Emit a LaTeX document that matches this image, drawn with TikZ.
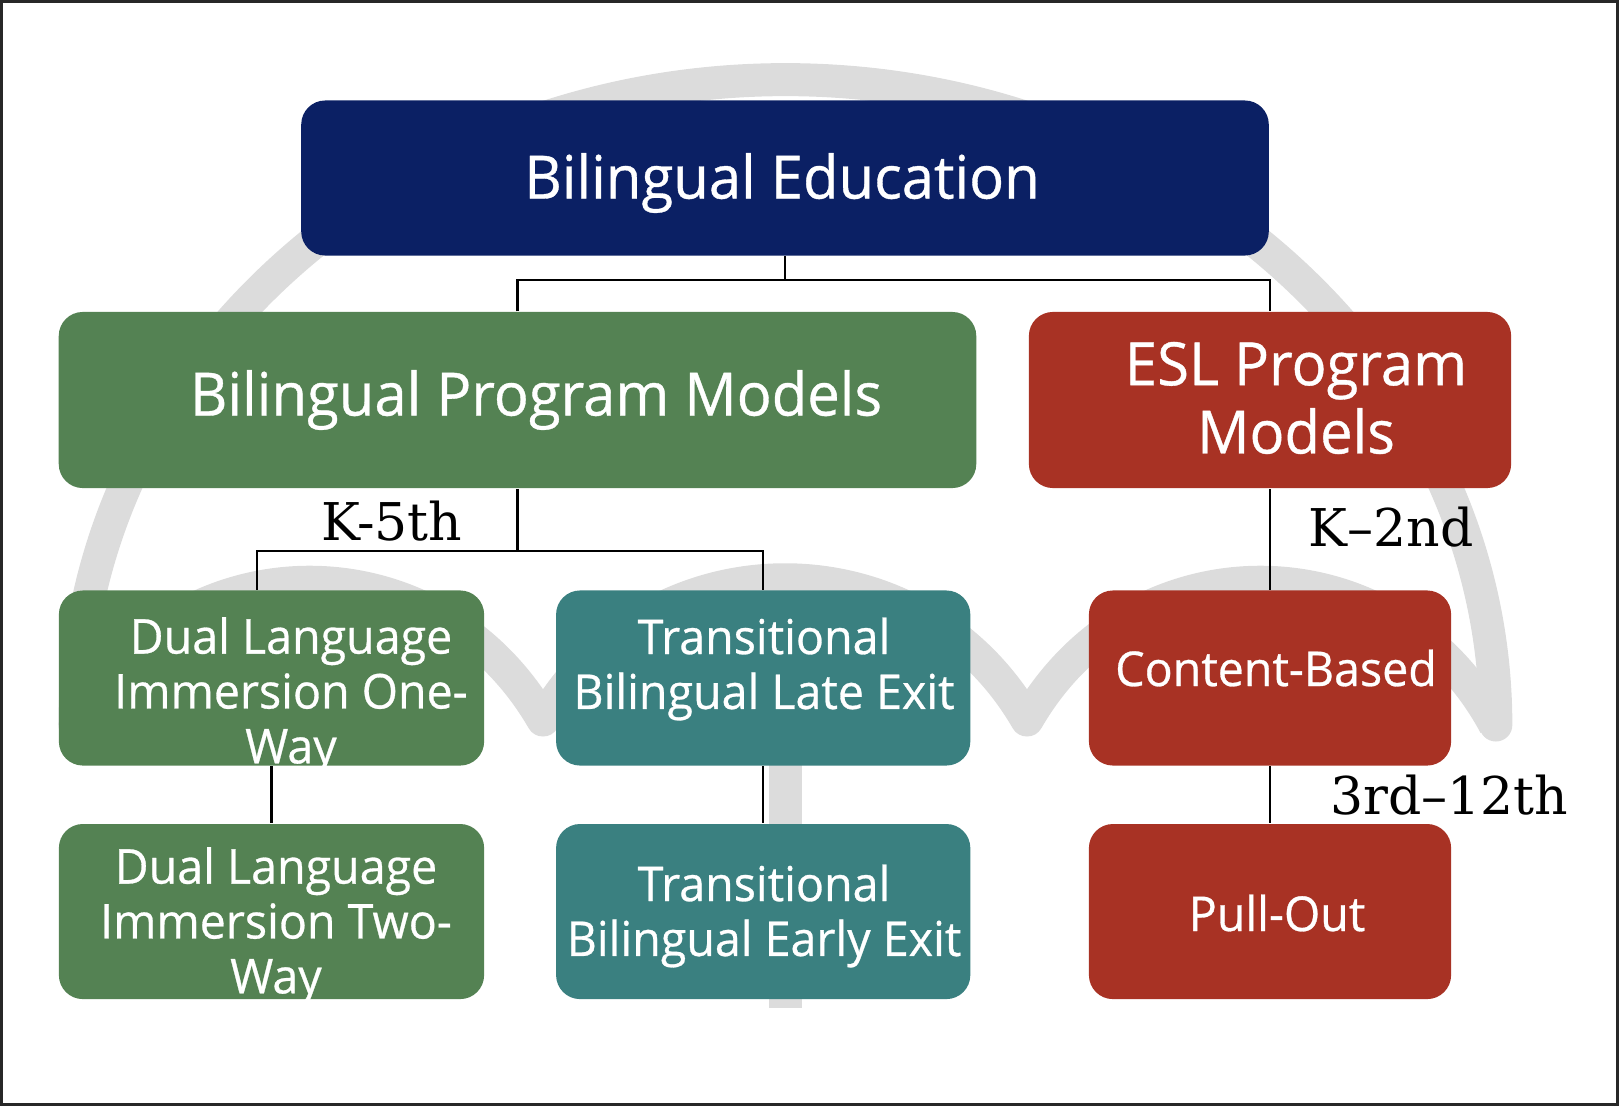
\documentclass[tikz,border=0pt]{standalone}
\usepackage{fontspec}
\setmainfont{Open Sans}[FakeBold=0.6, FakeStretch=0.97]
\newfontfamily\gradefont{DejaVu Serif}
\usetikzlibrary{positioning}
\definecolor{navyblue}{RGB}{11, 32, 100}
\definecolor{modelgreen}{RGB}{84, 130, 83}
\definecolor{eslred}{RGB}{168, 50, 36}
\definecolor{transteal}{RGB}{58, 128, 128}
\definecolor{markgray}{RGB}{220, 220, 220}
\definecolor{framegray}{RGB}{40, 40, 40}

\begin{document}
\begin{tikzpicture}[x=0.01cm, y=-0.01cm,
      box/.style={
        rectangle, rounded corners=0.24cm, inner sep=0pt
      },
      bigbox/.style={box, minimum height=1.76cm},
      smallbox/.style={box, minimum height=1.75cm},
      bigtxt/.style={text=white, align=center, inner sep=0pt,
        font=\fontsize{17}{19.4}\selectfont},
      smalltxt/.style={text=white, align=center, inner sep=0pt,
        font=\fontsize{13.65}{15.6}\selectfont},
      grade/.style={inner sep=0pt, font=\gradefont\fontsize{14.8}{17}\selectfont},
      link/.style={line width=0.022cm, color=black},
      logo/.style={draw=markgray, line width=0.33cm}
  ]
    \useasboundingbox (0,0) rectangle (1619,1106);

    % watermark
    \draw[logo, line cap=round] (75,725) arc[start angle=180, end angle=0, x radius=7.1cm, y radius=6.45cm];
    \draw[logo, line join=round] (75,725) .. controls (175,538) and (435,533) .. (543,720)
      .. controls (651,533) and (919,533) .. (1027,720)
      .. controls (1135,533) and (1395,538) .. (1495,725);
    \draw[logo] (785,600) -- (785,1008);

    \draw[framegray, line width=0.03cm] (1.5,1.5) rectangle (1617.5,1104.5);

    % boxes
    \node[box, fill=navyblue, minimum width=9.67cm, minimum height=1.55cm] (edu) at (785,178) {};
    \node[bigbox, fill=modelgreen, minimum width=9.17cm] (bpm) at (517.5,400) {};
    \node[bigbox, fill=eslred, minimum width=4.82cm] (esl) at (1270,400) {};
    \node[smallbox, fill=modelgreen, minimum width=4.25cm] (oneway) at (271.5,678) {};
    \node[smallbox, fill=transteal, minimum width=4.14cm] (late) [right=0.705cm of oneway] {};
    \node[smallbox, fill=eslred, minimum width=3.62cm] (content) at (1270,678) {};
    \node[smallbox, fill=modelgreen, minimum width=4.25cm] (twoway) [below=0.57cm of oneway] {};
    \node[smallbox, fill=transteal, minimum width=4.14cm] (early) [below=0.57cm of late] {};
    \node[smallbox, fill=eslred, minimum width=3.62cm] (pullout) [below=0.57cm of content] {};

    % texts
    \node[bigtxt] (edu-t) at (782,183) {Bilingual Education};
    \node[bigtxt] (bpm-t) at (536,400) {Bilingual Program Models};
    \node[bigtxt] (esl-t) at (1296,398) {ESL Program\\Models};
    \node[smalltxt] (oneway-t) at (291,696) {Dual Language\\Immersion One-\\Way};
    \node[smalltxt] (late-t) at (764,669) {Transitional\\Bilingual Late Exit};
    \node[smalltxt] (content-t) at (1276,668) {Content-Based};
    \node[smalltxt] (twoway-t) at (276,926) {Dual Language\\Immersion Two-\\Way};
    \node[smalltxt] (early-t) at (764,916) {Transitional\\Bilingual Early Exit};
    \node[smalltxt] (pullout-t) at (1277,913) {Pull-Out};

    % connectors
    \draw[link] (edu.south) -- ++(0,23.5) coordinate (edufork);
    \draw[link] (bpm.north) |- (edufork) -| (esl.north);
    \draw[link] (bpm.south) -- ++(0,62) coordinate (bpmfork);
    \draw[link] ([xshift=-0.145cm]oneway.north) |- (bpmfork) -| (late.north);
    \draw[link] (esl) -- (content);
    \draw[link] (oneway) -- (twoway);
    \draw[link] (late) -- (early);
    \draw[link] (content) -- (pullout);

    % grade labels
    \node[grade] (k5) at (392,521) {K-5th};
    \node[grade] (k2) at (1391,527) {K–2nd};
    \node[grade] (g312) at (1449,795) {3rd–12th};
  \end{tikzpicture}
\end{document}
